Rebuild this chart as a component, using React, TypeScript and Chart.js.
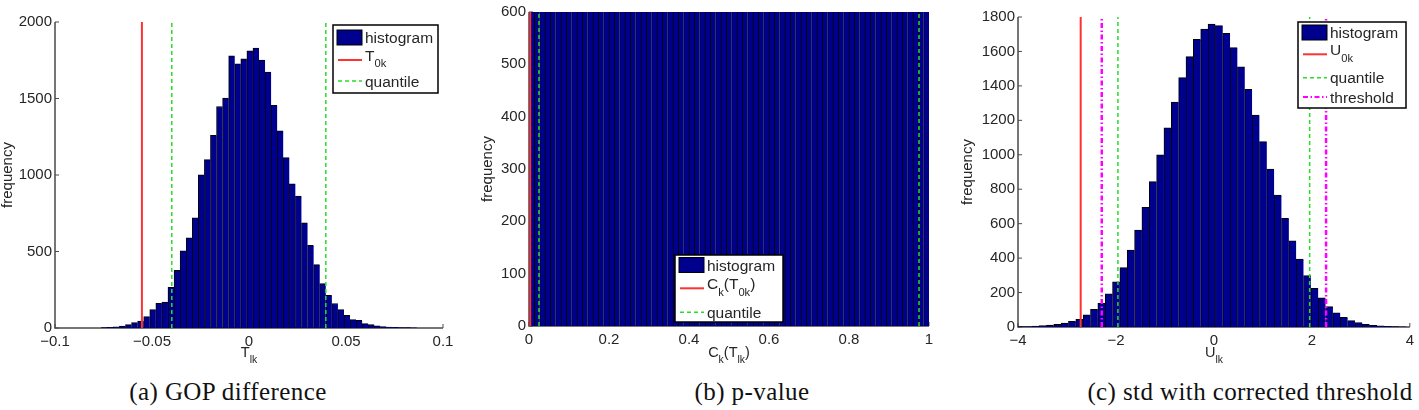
import React, { useEffect, useRef } from "react";
import { Chart, registerables } from "chart.js";

Chart.register(...registerables);

const FONT = '"Liberation Sans", Arial, Helvetica, sans-serif';
const SERIF = '"Liberation Serif", "DejaVu Serif", serif';

// ---------------- Panel (a): GOP difference ----------------
const A_FIRST_BIN_CENTER = -0.074624;
const A_BIN_WIDTH = 0.003129;
const A_COUNTS = [
  2, 4, 7, 12, 22, 35, 46, 74, 120, 162,
  169, 266, 377, 505, 590, 720,
  1001, 1101, 1259, 1448, 1502, 1779, 1727, 1760, 1811, 1829,
  1751, 1673, 1455, 1288, 1114, 942, 862, 687, 541, 414,
  290, 214, 160, 120, 83, 55, 50, 29, 22, 15,
  10, 6, 4, 3, 2, 1,
];
const A_T0K = -0.0552;
const A_QUANTILES = [-0.0398, 0.0396];
const A_XTICKS = [-0.1, -0.05, 0, 0.05, 0.1];
const A_XTICK_LABELS = ["\u22120.1", "\u22120.05", "0", "0.05", "0.1"];
const A_YTICKS = [0, 500, 1000, 1500, 2000];

// ---------------- Panel (b): p-value ----------------
const B_BIN_WIDTH = 1 / 75;
const B_COUNTS = [
  1321, 1347, 1329, 1338, 1352, 1316, 1334, 1341, 1325, 1349,
  1330, 1318, 1344, 1336, 1327, 1351, 1322, 1339, 1333, 1346,
  1319, 1340, 1328, 1355, 1324, 1337, 1343, 1315, 1348, 1331,
  1326, 1353, 1320, 1342, 1335, 1317, 1350, 1332, 1345, 1323,
  1338, 1329, 1354, 1321, 1336, 1347, 1318, 1341, 1327, 1352,
  1334, 1325, 1344, 1330, 1349, 1316, 1339, 1343, 1322, 1337,
  1346, 1328, 1351, 1319, 1335, 1340, 1326, 1353, 1331, 1324,
  1348, 1333, 1320, 1342, 1336,
];
const B_C0K = 0.003;
const B_QUANTILES = [0.025, 0.975];
const B_XTICKS = [0, 0.2, 0.4, 0.6, 0.8, 1];
const B_XTICK_LABELS = ["0", "0.2", "0.4", "0.6", "0.8", "1"];
const B_YTICKS = [0, 100, 200, 300, 400, 500, 600];

// ---------------- Panel (c): std with corrected threshold ----------------
const C_FIRST_BIN_CENTER = -3.945;
const C_BIN_WIDTH = 0.15;
const C_COUNTS = [
  2, 3, 5, 8, 11, 16, 23, 33, 45, 70,
  103, 137, 192, 263, 345, 447, 563, 695,
  844, 999, 1157, 1306, 1448, 1570, 1670, 1730, 1759, 1750,
  1705, 1622, 1511, 1380, 1231, 1076, 917, 766, 631, 501,
  395, 298, 225, 170, 118, 83, 56, 37, 25, 15,
  10, 7, 4, 3, 1,
];
const C_U0K = -2.72;
const C_QUANTILES = [-1.96, 1.955];
const C_THRESHOLDS = [-2.29, 2.29];
const C_XTICKS = [-4, -2, 0, 2, 4];
const C_XTICK_LABELS = ["\u22124", "\u22122", "0", "2", "4"];
const C_YTICKS = [0, 200, 400, 600, 800, 1000, 1200, 1400, 1600, 1800];

// ---------------- styles ----------------
const NAVY = "rgb(0,0,143)";
const RED = "rgb(255,50,50)";
const GREEN = "rgb(40,220,40)";
const MAGENTA = "rgb(255,0,255)";
const AXIS = "#4a4a4a";
const TEXT = "#262626";

type Part = { t: string; sub?: boolean };
type VLine = { x: number; color: string; width: number; dash: number[] };
type LegendRow = { kind: "patch" | "solid" | "dash" | "dashdot"; color: string; y: number; label: Part[] };
type PanelCfg = {
  left: number;
  width: number;
  height: number;
  plot: { left: number; right: number; top: number; bottom: number };
  xMin: number;
  xMax: number;
  yMax: number;
  xTicks: number[];
  xTickLabels: string[];
  yTicks: number[];
  firstCenter: number;
  binWidth: number;
  counts: number[];
  vlines: VLine[];
  legend: { x: number; y: number; w: number; h: number; rows: LegendRow[] };
  xTitle: Part[];
  yTitleX: number;
};

function drawRich(ctx: CanvasRenderingContext2D, parts: Part[], x: number, y: number, size: number, align: "left" | "center") {
  const sub = size * 0.72;
  let w = 0;
  for (const p of parts) {
    ctx.font = `${p.sub ? sub : size}px ${FONT}`;
    w += ctx.measureText(p.t).width;
  }
  let cx = align === "center" ? x - w / 2 : x;
  ctx.textAlign = "left";
  ctx.textBaseline = "alphabetic";
  for (const p of parts) {
    ctx.font = `${p.sub ? sub : size}px ${FONT}`;
    ctx.fillText(p.t, cx, p.sub ? y + size * 0.4 : y);
    cx += ctx.measureText(p.t).width;
  }
}

function dashFor(kind: string): number[] {
  if (kind === "dash") return [4, 3];
  if (kind === "dashdot") return [5, 2.5, 1.5, 2.5];
  return [];
}

function makeDecor(cfg: PanelCfg) {
  const ox = cfg.left;
  return {
    id: "decor",
    beforeDatasetsDraw(chart: any) {
      const ctx: CanvasRenderingContext2D = chart.ctx;
      const { left, right, top, bottom } = chart.chartArea;
      const xs = chart.scales.x;
      const ys = chart.scales.y;
      ctx.save();
      ctx.strokeStyle = AXIS;
      ctx.lineWidth = 1.5;
      ctx.beginPath();
      ctx.moveTo(left, top);
      ctx.lineTo(left, bottom);
      ctx.lineTo(right, bottom);
      ctx.stroke();
      ctx.lineWidth = 1;
      ctx.beginPath();
      for (const v of cfg.xTicks) {
        const px = xs.getPixelForValue(v);
        ctx.moveTo(px, bottom);
        ctx.lineTo(px, bottom - 4);
      }
      for (const v of cfg.yTicks) {
        const py = ys.getPixelForValue(v);
        ctx.moveTo(left, py);
        ctx.lineTo(left + 4, py);
      }
      ctx.stroke();
      ctx.restore();
    },
    afterDraw(chart: any) {
      const ctx: CanvasRenderingContext2D = chart.ctx;
      const { left, right, top, bottom } = chart.chartArea;
      ctx.save();
      // legend
      const L = cfg.legend;
      ctx.fillStyle = "#fff";
      ctx.fillRect(L.x - ox, L.y, L.w, L.h);
      ctx.strokeStyle = "#000";
      ctx.lineWidth = 1.5;
      ctx.setLineDash([]);
      ctx.strokeRect(L.x - ox, L.y, L.w, L.h);
      const x0 = L.x - ox + 4;
      for (const r of L.rows) {
        if (r.kind === "patch") {
          ctx.fillStyle = NAVY;
          ctx.fillRect(x0, r.y - 7.5, 25, 15);
          ctx.strokeStyle = "#000";
          ctx.lineWidth = 1;
          ctx.strokeRect(x0, r.y - 7.5, 25, 15);
        } else {
          ctx.strokeStyle = r.color;
          ctx.lineWidth = r.kind === "dashdot" ? 2 : r.kind === "solid" ? 2 : 1.5;
          ctx.setLineDash(dashFor(r.kind));
          ctx.beginPath();
          ctx.moveTo(x0 + 1, r.y);
          ctx.lineTo(x0 + 25, r.y);
          ctx.stroke();
          ctx.setLineDash([]);
        }
        ctx.fillStyle = TEXT;
        const hasSub = r.label.some((p) => p.sub);
        drawRich(ctx, r.label, x0 + 28, hasSub ? r.y + 1 : r.y + 5.5, 15.5, "left");
      }
      // x title
      ctx.fillStyle = TEXT;
      drawRich(ctx, cfg.xTitle, (left + right) / 2, 357, 14.5, "center");
      // y title
      ctx.translate(cfg.yTitleX - ox, (top + bottom) / 2);
      ctx.rotate(-Math.PI / 2);
      ctx.font = `15px ${FONT}`;
      ctx.textAlign = "center";
      ctx.textBaseline = "middle";
      ctx.fillText("frequency", 0, 0);
      ctx.restore();
    },
  };
}

function Panel({ cfg }: { cfg: PanelCfg }) {
  const ref = useRef<HTMLCanvasElement | null>(null);
  useEffect(() => {
    const canvas = ref.current;
    if (!canvas) return;
    const yAxisW = cfg.plot.left - cfg.left;
    const xAxisH = cfg.height - cfg.plot.bottom;
    const padRight = cfg.left + cfg.width - cfg.plot.right;
    const barData = cfg.counts.map((c, i) => ({ x: cfg.firstCenter + i * cfg.binWidth, y: c }));
    const datasets: any[] = [
      {
        type: "bar",
        data: barData,
        backgroundColor: NAVY,
        borderColor: "#000",
        borderWidth: { left: 1, top: 1, right: 0, bottom: 0 },
        borderSkipped: false,
        barPercentage: 1,
        categoryPercentage: 1,
        order: 2,
        clip: 0,
      },
      ...cfg.vlines.map((v) => ({
        type: "line",
        data: [
          { x: v.x, y: 0 },
          { x: v.x, y: cfg.yMax },
        ],
        borderColor: v.color,
        borderWidth: v.width,
        borderDash: v.dash,
        pointRadius: 0,
        fill: false,
        order: 1,
        clip: 2,
      })),
    ];
    const chart = new Chart(canvas, {
      type: "bar",
      data: { datasets },
      options: {
        animation: false,
        responsive: true,
        maintainAspectRatio: false,
        events: [],
        layout: { padding: { left: 0, right: padRight, top: cfg.plot.top, bottom: 0 } },
        plugins: { legend: { display: false }, tooltip: { enabled: false } },
        scales: {
          x: {
            type: "linear",
            min: cfg.xMin,
            max: cfg.xMax,
            offset: false,
            grid: { display: false, offset: false, drawTicks: false },
            border: { display: false },
            afterBuildTicks: (s: any) => {
              s.ticks = cfg.xTicks.map((v) => ({ value: v }));
            },
            afterFit: (s: any) => {
              s.height = xAxisH;
            },
            ticks: {
              autoSkip: false,
              maxRotation: 0,
              padding: 5,
              color: TEXT,
              font: { family: FONT, size: 15 },
              callback: (_v: any, i: number) => cfg.xTickLabels[i],
            },
          },
          y: {
            type: "linear",
            min: 0,
            max: cfg.yMax,
            grid: { display: false, drawTicks: false },
            border: { display: false },
            afterBuildTicks: (s: any) => {
              s.ticks = cfg.yTicks.map((v) => ({ value: v }));
            },
            afterFit: (s: any) => {
              s.width = yAxisW;
            },
            ticks: {
              autoSkip: false,
              padding: 3,
              color: TEXT,
              font: { family: FONT, size: 15 },
              callback: (v: any) => String(v),
            },
          },
        },
      } as any,
      plugins: [makeDecor(cfg) as any],
    });
    return () => chart.destroy();
  }, [cfg]);
  return (
    <div style={{ position: "absolute", left: cfg.left, top: 0, width: cfg.width, height: cfg.height }}>
      <canvas ref={ref} />
    </div>
  );
}

const PANEL_A: PanelCfg = {
  left: 0,
  width: 470,
  height: 370,
  plot: { left: 55, right: 443, top: 22, bottom: 328 },
  xMin: -0.1,
  xMax: 0.1,
  yMax: 2000,
  xTicks: A_XTICKS,
  xTickLabels: A_XTICK_LABELS,
  yTicks: A_YTICKS,
  firstCenter: A_FIRST_BIN_CENTER,
  binWidth: A_BIN_WIDTH,
  counts: A_COUNTS,
  vlines: [
    { x: A_T0K, color: RED, width: 2, dash: [] },
    { x: A_QUANTILES[0], color: GREEN, width: 1.5, dash: [4, 3] },
    { x: A_QUANTILES[1], color: GREEN, width: 1.5, dash: [4, 3] },
  ],
  legend: {
    x: 333,
    y: 25,
    w: 105,
    h: 68,
    rows: [
      { kind: "patch", color: NAVY, y: 37.5, label: [{ t: "histogram" }] },
      { kind: "solid", color: RED, y: 60, label: [{ t: "T" }, { t: "0k", sub: true }] },
      { kind: "dash", color: GREEN, y: 81, label: [{ t: "quantile" }] },
    ],
  },
  xTitle: [{ t: "T" }, { t: "lk", sub: true }],
  yTitleX: 8,
};

const PANEL_B: PanelCfg = {
  left: 470,
  width: 480,
  height: 370,
  plot: { left: 529, right: 929, top: 10, bottom: 326 },
  xMin: 0,
  xMax: 1,
  yMax: 600,
  xTicks: B_XTICKS,
  xTickLabels: B_XTICK_LABELS,
  yTicks: B_YTICKS,
  firstCenter: B_BIN_WIDTH / 2,
  binWidth: B_BIN_WIDTH,
  counts: B_COUNTS,
  vlines: [
    { x: B_C0K, color: RED, width: 2, dash: [] },
    { x: B_QUANTILES[0], color: GREEN, width: 1.5, dash: [4, 3] },
    { x: B_QUANTILES[1], color: GREEN, width: 1.5, dash: [4, 3] },
  ],
  legend: {
    x: 675,
    y: 255,
    w: 108,
    h: 67,
    rows: [
      { kind: "patch", color: NAVY, y: 265, label: [{ t: "histogram" }] },
      {
        kind: "solid",
        color: RED,
        y: 288.3,
        label: [{ t: "C" }, { t: "k", sub: true }, { t: "(T" }, { t: "0k", sub: true }, { t: ")" }],
      },
      { kind: "dash", color: GREEN, y: 312.3, label: [{ t: "quantile" }] },
    ],
  },
  xTitle: [{ t: "C" }, { t: "k", sub: true }, { t: "(T" }, { t: "lk", sub: true }, { t: ")" }],
  yTitleX: 487.5,
};

const PANEL_C: PanelCfg = {
  left: 950,
  width: 469,
  height: 370,
  plot: { left: 1018, right: 1410, top: 17, bottom: 327 },
  xMin: -4,
  xMax: 4,
  yMax: 1800,
  xTicks: C_XTICKS,
  xTickLabels: C_XTICK_LABELS,
  yTicks: C_YTICKS,
  firstCenter: C_FIRST_BIN_CENTER,
  binWidth: C_BIN_WIDTH,
  counts: C_COUNTS,
  vlines: [
    { x: C_U0K, color: RED, width: 2, dash: [] },
    { x: C_QUANTILES[0], color: GREEN, width: 1.5, dash: [4, 3] },
    { x: C_QUANTILES[1], color: GREEN, width: 1.5, dash: [4, 3] },
    { x: C_THRESHOLDS[0], color: MAGENTA, width: 2.5, dash: [5, 2.5, 1.5, 2.5] },
    { x: C_THRESHOLDS[1], color: MAGENTA, width: 2.5, dash: [5, 2.5, 1.5, 2.5] },
  ],
  legend: {
    x: 1298,
    y: 22,
    w: 108,
    h: 86,
    rows: [
      { kind: "patch", color: NAVY, y: 32.5, label: [{ t: "histogram" }] },
      { kind: "solid", color: RED, y: 54.3, label: [{ t: "U" }, { t: "0k", sub: true }] },
      { kind: "dash", color: GREEN, y: 77.7, label: [{ t: "quantile" }] },
      { kind: "dashdot", color: MAGENTA, y: 97, label: [{ t: "threshold" }] },
    ],
  },
  xTitle: [{ t: "U" }, { t: "lk", sub: true }],
  yTitleX: 968,
};

const CAPTIONS = [
  { text: "(a) GOP difference", center: 228 },
  { text: "(b) p-value", center: 752 },
  { text: "(c) std with corrected threshold", center: 1250 },
];

export default function App() {
  return (
    <div style={{ position: "absolute", left: 0, top: 0, width: 1419, height: 410, background: "#fff", overflow: "hidden" }}>
      <Panel cfg={PANEL_A} />
      <Panel cfg={PANEL_B} />
      <Panel cfg={PANEL_C} />
      {CAPTIONS.map((c) => (
        <div
          key={c.text}
          style={{
            position: "absolute",
            left: c.center - 250,
            width: 500,
            top: 378,
            textAlign: "center",
            fontFamily: SERIF,
            fontSize: 25,
            lineHeight: "28px",
            color: "#111",
            letterSpacing: "0.4px",
          }}
        >
          {c.text}
        </div>
      ))}
    </div>
  );
}
